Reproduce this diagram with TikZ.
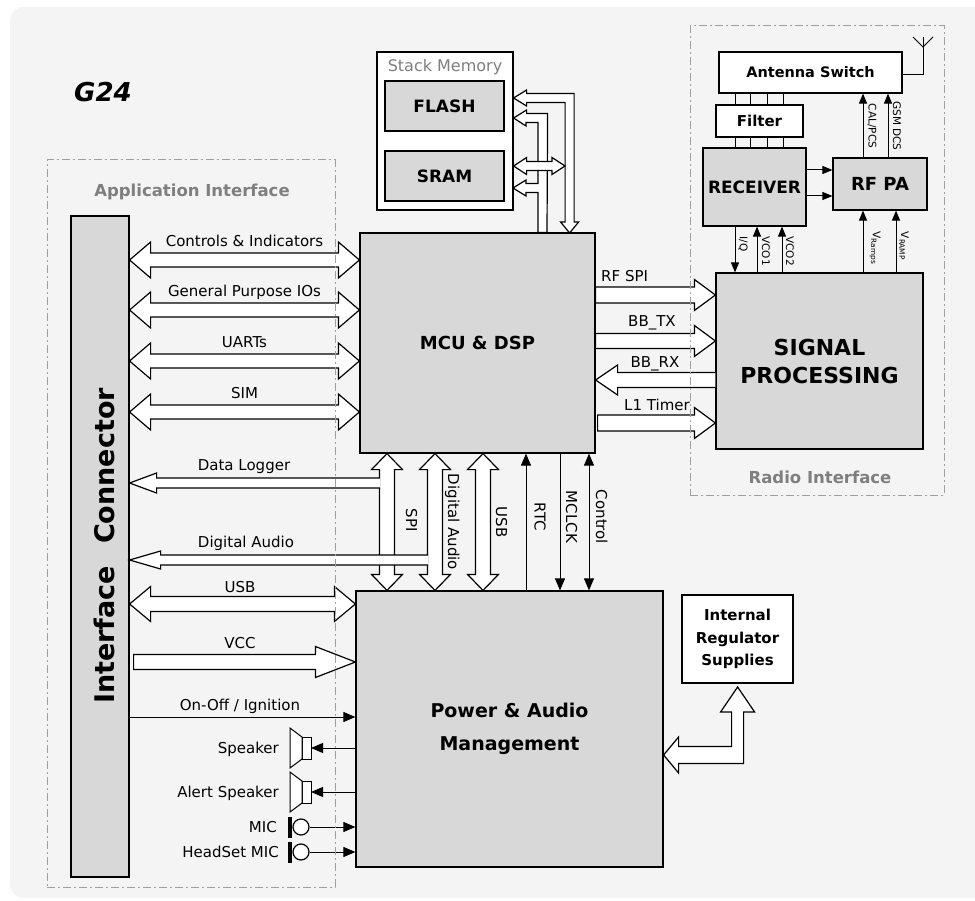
\documentclass[tikz,border=0pt]{standalone}
\usepackage{fontspec}
\setmainfont{DejaVu Sans}
\usetikzlibrary{arrows.meta,calc,positioning}

\definecolor{bggray}{HTML}{F4F4F4}
\definecolor{boxgray}{HTML}{D8D8D8}
\definecolor{txtgray}{HTML}{7F7F7F}
\definecolor{dashgray}{HTML}{A0A0A0}

% hollow bus arrows: shaft half width, head half width, head length, from, to
\newcommand{\dbusH}[5]{\filldraw[bus] let \p1=#4, \p2=#5 in (\x1,\y1) -- (\x1+#3pt,\y1+#2pt) -- (\x1+#3pt,\y1+#1pt) -- (\x2-#3pt,\y1+#1pt) -- (\x2-#3pt,\y1+#2pt) -- (\x2,\y1) -- (\x2-#3pt,\y1-#2pt) -- (\x2-#3pt,\y1-#1pt) -- (\x1+#3pt,\y1-#1pt) -- (\x1+#3pt,\y1-#2pt) -- cycle;}
\newcommand{\rbusH}[5]{\filldraw[bus] let \p1=#4, \p2=#5 in (\x1,\y1+#1pt) -- (\x2-#3pt,\y1+#1pt) -- (\x2-#3pt,\y1+#2pt) -- (\x2,\y1) -- (\x2-#3pt,\y1-#2pt) -- (\x2-#3pt,\y1-#1pt) -- (\x1,\y1-#1pt) -- cycle;}
\newcommand{\lbusH}[5]{\filldraw[bus] let \p1=#4, \p2=#5 in (\x2,\y1+#1pt) -- (\x1+#3pt,\y1+#1pt) -- (\x1+#3pt,\y1+#2pt) -- (\x1,\y1) -- (\x1+#3pt,\y1-#2pt) -- (\x1+#3pt,\y1-#1pt) -- (\x2,\y1-#1pt);}
\newcommand{\dbusV}[5]{\filldraw[bus] let \p1=#4, \p2=#5 in (\x1,\y1) -- (\x1+#2pt,\y1-#3pt) -- (\x1+#1pt,\y1-#3pt) -- (\x1+#1pt,\y2+#3pt) -- (\x1+#2pt,\y2+#3pt) -- (\x1,\y2) -- (\x1-#2pt,\y2+#3pt) -- (\x1-#1pt,\y2+#3pt) -- (\x1-#1pt,\y1-#3pt) -- (\x1-#2pt,\y1-#3pt) -- cycle;}

\begin{document}
\begin{tikzpicture}[x=1pt, y=-1pt,
	blk/.style={draw, line width=1.2pt, fill=boxgray, inner sep=0, align=center},
	wblk/.style={blk, fill=white},
	bus/.style={draw, fill=white, line width=1.2pt, line join=miter},
	sig/.style={line width=1pt, -{Triangle[length=12pt, width=10pt]}},
	sigd/.style={line width=1pt, {Triangle[length=12pt, width=10pt]}-{Triangle[length=12pt, width=10pt]}},
	sigs/.style={line width=1pt, -{Triangle[length=10pt, width=8pt]}},
	lbl/.style={font=\fontsize{15}{15}\selectfont, inner sep=0, text height=11pt, text depth=3pt},
	vlbl/.style={lbl, rotate=-90},
	smll/.style={font=\fontsize{10.5}{10.5}\selectfont, inner sep=0, rotate=-90},
	area/.style={draw=dashgray, line width=1pt, dash pattern=on 8pt off 3pt on 2pt off 3pt, inner sep=0},
	arealbl/.style={font=\bfseries\fontsize{16.5}{16.5}\selectfont, text=txtgray},
	speaker/.pic={\filldraw[fill=white, line width=1pt] (-9,-11) rectangle (0,11);
		\filldraw[fill=white, line width=1pt] (-9,-11) -- (-21,-20) -- (-21,20) -- (-9,11) -- cycle;},
	mic/.pic={\fill (-22,-10.5) rectangle (-18,10.5);
		\draw[fill=white, line width=1.2pt] (-9,0) circle (8pt);}]

\useasboundingbox (0,0) rectangle (975,901);
\fill[bggray, rounded corners=14pt] (10,7) rectangle (995,898);

\node[font=\bfseries\itshape\fontsize{26}{26}\selectfont] (title) at (103,92) {G24};

% blocks
\node[blk, minimum width=58pt, minimum height=661pt] (conn) at (100,546.5) {};
\node[rotate=90, font=\bfseries\fontsize{27}{27}\selectfont] (connlbl) at (104,546) {Interface\hspace{22pt}Connector};
\node[blk, minimum width=235pt, minimum height=220pt, font=\bfseries\fontsize{18}{18}\selectfont] (mcu) at (477.5,343) {MCU \& DSP};
\node[blk, minimum width=307pt, minimum height=276pt, font=\bfseries\fontsize{19}{33}\selectfont] (pam) at (509.5,729) {Power \& Audio\\Management};

\node[wblk, minimum width=136pt, minimum height=158pt] (stack) at (445,131) {};
\node[font=\fontsize{16}{16}\selectfont, text=txtgray] (stacklbl) at (445,67) {Stack Memory};
\node[blk, minimum width=119pt, minimum height=50pt, font=\bfseries\fontsize{17}{17}\selectfont] (flash) at (444.5,106) {FLASH};
\node[blk, minimum width=119pt, minimum height=50pt, font=\bfseries\fontsize{17}{17}\selectfont] (sram) at (444.5,176) {SRAM};

\node[wblk, minimum width=183pt, minimum height=41pt, font=\bfseries\fontsize{14.5}{14.5}\selectfont] (ant) at (810.5,72.5) {Antenna Switch};
\node[wblk, minimum width=87pt, minimum height=32pt, font=\bfseries\fontsize{15}{15}\selectfont] (filt) at (759.5,121) {Filter};
\node[blk, minimum width=103pt, minimum height=78pt, font=\bfseries\fontsize{17}{17}\selectfont] (rx) at (754.5,187) {RECEIVER};
\node[blk, minimum width=94pt, minimum height=52pt, font=\bfseries\fontsize{18}{18}\selectfont] (pa) at (880,184) {RF PA};
\node[blk, minimum width=207pt, minimum height=176pt, font=\bfseries\fontsize{22}{28}\selectfont] (sp) at (819.5,361) {SIGNAL\\PROCESSING};
\node[wblk, minimum width=111pt, minimum height=88pt, font=\bfseries\fontsize{15}{22.5}\selectfont] (reg) at (737.5,639) {Internal\\Regulator\\Supplies};

% buses to the connector
\foreach \r/\txt [count=\i] in {260/Controls \& Indicators, 310/General Purpose IOs, 361/UARTs, 412/SIM} {
	\dbusH{7}{18}{21}{(conn.east |- 0,\r)}{(mcu.west |- 0,\r)}
	\path (conn.east |- 0,\r) -- (mcu.west |- 0,\r) node[lbl, midway, above=10pt] (bl\i) {\txt};
}

% MCU to power & audio
\coordinate (xspi) at (387,0);
\coordinate (xda) at (435,0);
\coordinate (xusb) at (483,0);
\coordinate (xrtc) at (526,0);
\coordinate (xmclk) at (560,0);
\coordinate (xctl) at (589,0);
\dbusV{7.5}{15.5}{16}{(xspi |- mcu.south)}{(xspi |- pam.north)}
\lbusH{5}{10}{27}{(conn.east |- 0,483)}{($(xspi |- 0,483)+(-6.8,0)$)}
\dbusV{7.5}{15.5}{16}{(xda |- mcu.south)}{(xda |- pam.north)}
\lbusH{5}{9}{31}{(conn.east |- 0,560)}{($(xda |- 0,560)+(-6.8,0)$)}
\dbusV{7.5}{15.5}{16}{(xusb |- mcu.south)}{(xusb |- pam.north)}
\begin{scope}
\draw[sig] (xrtc |- pam.north) -- (xrtc |- mcu.south);
\draw[sig] (xmclk |- mcu.south) -- (xmclk |- pam.north);
\draw[sigd] (xctl |- mcu.south) -- (xctl |- pam.north);
\end{scope}
\node[vlbl] (lspi) at (410,520) {SPI};
\node[vlbl] (lda) at (452,522) {Digital Audio};
\node[vlbl] (lusb) at (500,522) {USB};
\node[vlbl] (lrtc) at (538.5,517) {RTC};
\node[vlbl] (lmclk) at (570,517) {MCLCK};
\node[vlbl] (lctl) at (600,517) {Control};
\node[lbl] (ldl) at (244,466) {Data Logger};
\node[lbl] (ldaud) at (246,543) {Digital Audio};

% power & audio to the connector
\dbusH{7.5}{17.5}{21}{(conn.east |- 0,604)}{(pam.west |- 0,604)}
\rbusH{7.5}{15.5}{40}{($(conn.east |- 0,662)+(4,0)$)}{(pam.west |- 0,662)}
\draw[sig] (conn.east |- 0,717) -- (pam.west |- 0,717);
\node[lbl] (lusbc) at (240,588) {USB};
\node[lbl] (lvcc) at (240,644) {VCC};
\node[lbl] (lon) at (240,706) {On-Off / Ignition};

% audio parts
\coordinate (spk1) at (311,748);
\coordinate (spk2) at (311,792);
\coordinate (mic1) at (310,827);
\coordinate (mic2) at (310,852);
\pic at (spk1) {speaker};
\pic at (spk2) {speaker};
\pic at (mic1) {mic};
\pic at (mic2) {mic};
\draw[sig] (pam.west |- spk1) -- (spk1);
\draw[sig] (pam.west |- spk2) -- (spk2);
\draw[sig] (mic1) -- (pam.west |- mic1);
\draw[sig] (mic2) -- (pam.west |- mic2);
\node[lbl, anchor=east] (lspk1) at (279,749) {Speaker};
\node[lbl, anchor=east] (lspk2) at (279,793) {Alert Speaker};
\node[lbl, anchor=east] (lmic1) at (277,828) {MIC};
\node[lbl, anchor=east] (lmic2) at (279,853) {HeadSet MIC};

% regulator supplies
\filldraw[bus] (pam.east |- 0,755) -- ++(15,-18) -- ++(0,9.5) -- ++(53,0) -- ++(0,-34.5) -- ++(-11,0) -- ++(17,-25) -- ++(17,25) -- ++(-11,0) -- ++(0,51.5) -- ++(-65,0) -- ++(0,9.5) -- cycle;

% stack memory buses
\filldraw[bus] (stack.east |- 0,98) -- ++(13,-8) -- ++(0,3.5) -- ++(47.5,0) -- ++(0,128.5) -- ++(4.5,0) -- ++(-9,11) -- ++(-9,-11) -- ++(4.5,0) -- ++(0,-119.5) -- ++(-38.5,0) -- ++(0,3.5) -- cycle;
\filldraw[bus] (stack.east |- 0,118) -- ++(13,-8) -- ++(0,3.5) -- ++(21,0) -- (547,0 |- mcu.north) -- (538,0 |- mcu.north) -- (538,192.5) -- (526,192.5) -- ++(0,3.5) -- ++(-13,-8) -- ++(13,-8) -- ++(0,3.5) -- (538,183.5) -- (538,122.5) -- (526,122.5) -- ++(0,3.5) -- cycle;
\dbusH{4.5}{8.5}{13}{(stack.east |- 0,166)}{(565,166)}

% MCU to signal processing
\rbusH{8}{15.5}{21}{(mcu.east |- 0,295)}{(sp.west |- 0,295)}
\rbusH{7.5}{15.5}{21}{(mcu.east |- 0,341)}{(sp.west |- 0,341)}
\lbusH{7.5}{15}{22}{(mcu.east |- 0,380)}{(sp.west |- 0,380)}
\rbusH{8}{15.5}{21}{($(mcu.east |- 0,423)+(2,0)$)}{(sp.west |- 0,423)}
\node[lbl, anchor=west] (lrfspi) at (601,278) {RF SPI};
\node[lbl] (lbbtx) at (652,323) {BB\_TX};
\node[lbl] (lbbrx) at (655,363) {BB\_RX};
\node[lbl] (ltimer) at (657,406) {L1 Timer};

% radio
\foreach \c in {735,750,767,783} {
	\draw[line width=1pt] (\c,0 |- ant.south) -- (\c,0 |- filt.north);
	\draw[line width=1pt] (\c,0 |- filt.south) -- (\c,0 |- rx.north);
}
\draw[line width=1pt] (ant.east |- 0,75) -| (923,37);
\draw[line width=1pt] (913,37) -- (923,47) -- (933,37);
\begin{scope}
\draw[sigs] (rx.east |- 0,170) -- (pa.west |- 0,170);
\draw[sigs] (rx.east |- 0,196) -- (pa.west |- 0,196);
\draw[sigs] (863,0 |- pa.north) -- (863,0 |- ant.south);
\draw[sigs] (888,0 |- pa.north) -- (888,0 |- ant.south);
\draw[sigs] (735,0 |- rx.south) -- (735,0 |- sp.north);
\draw[sigs] (757,0 |- sp.north) -- (757,0 |- rx.south);
\draw[sigs] (782,0 |- sp.north) -- (782,0 |- rx.south);
\draw[sigs] (863,0 |- sp.north) -- (863,0 |- pa.south);
\draw[sigs] (896,0 |- sp.north) -- (896,0 |- pa.south);
\end{scope}
\node[smll] (lcal) at (872,126) {CAL/PCS};
\node[smll] (lgsm) at (897,126) {GSM DCS};
\node[smll] (liq) at (743,244) {I/Q};
\node[smll] (lvco1) at (766,251) {VCO1};
\node[smll] (lvco2) at (790,251) {VCO2};
\node[smll] (lvr1) at (875,248) {V\textsubscript{Ramps}};
\node[smll] (lvr2) at (904,246) {V\textsubscript{RAMP}};

% interface areas
\node[area, minimum width=288pt, minimum height=727pt] (appif) at (191,523.5) {};
\node[arealbl] (appiflbl) at (192,192) {Application Interface};
\node[area, minimum width=254pt, minimum height=469pt] (radioif) at (817,260.5) {};
\node[arealbl] (radioiflbl) at (820,477) {Radio Interface};
\end{tikzpicture}
\end{document}
